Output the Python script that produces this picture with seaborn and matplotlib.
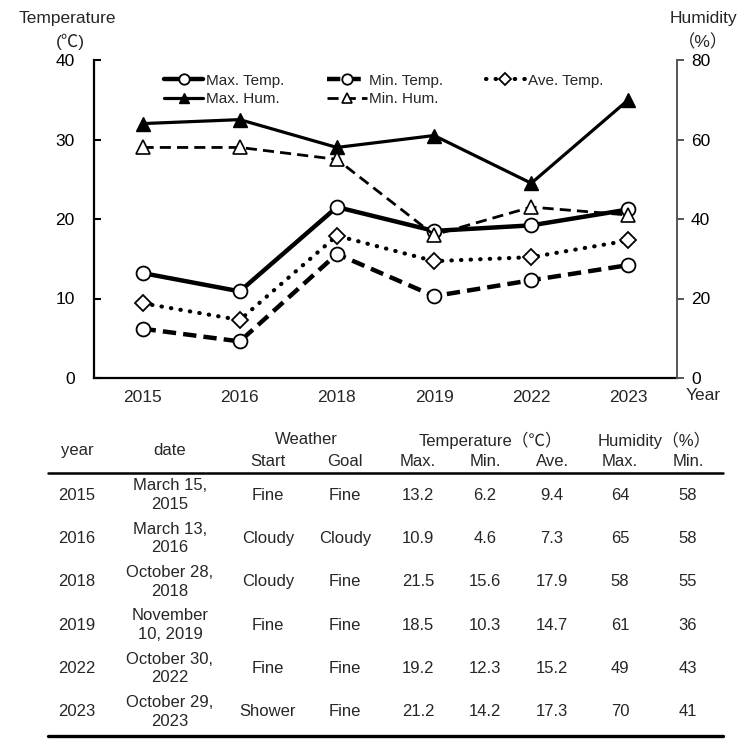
import matplotlib
matplotlib.use("Agg")
import matplotlib.pyplot as plt
from matplotlib.lines import Line2D
import seaborn as sns
import pandas as pd

# ================= DATA =================
years = ["2015", "2016", "2018", "2019", "2022", "2023"]
dates = ["March 15,\n2015", "March 13,\n2016", "October 28,\n2018",
         "November\n10, 2019", "October 30,\n2022", "October 29,\n2023"]
weather_start = ["Fine", "Cloudy", "Cloudy", "Fine", "Fine", "Shower"]
weather_goal = ["Fine", "Cloudy", "Fine", "Fine", "Fine", "Fine"]
max_temp = [13.2, 10.9, 21.5, 18.5, 19.2, 21.2]
min_temp = [6.2, 4.6, 15.6, 10.3, 12.3, 14.2]
ave_temp = [9.4, 7.3, 17.9, 14.7, 15.2, 17.3]
max_hum = [64, 65, 58, 61, 49, 70]
min_hum = [58, 58, 55, 36, 43, 41]

df = pd.DataFrame({"year": years, "max_temp": max_temp, "min_temp": min_temp,
                   "ave_temp": ave_temp, "max_hum": max_hum, "min_hum": min_hum})

# ================= STYLE =================
sns.set_style("white")
plt.rcParams["font.family"] = ["Liberation Sans", "Noto Sans CJK JP", "DejaVu Sans"]
plt.rcParams["font.size"] = 12

W, H = 750, 746
fig = plt.figure(figsize=(W / 100, H / 100), dpi=100)


def fx(x):
    return x / W


def fy(y):
    return 1 - y / H


ax = fig.add_axes([fx(94), fy(378), fx(677) - fx(94), fy(60) - fy(378)])
ax2 = ax.twinx()

circ = dict(marker="o", markersize=10, markerfacecolor="white",
            markeredgecolor="black", markeredgewidth=1.3)

sns.lineplot(data=df, x="year", y="max_temp", ax=ax, sort=False, color="black",
             linewidth=3.2, label="Max. Temp.", **circ)
sns.lineplot(data=df, x="year", y="min_temp", ax=ax, sort=False, color="black",
             linewidth=3.2, linestyle=(0, (3, 1.6)), label="Min. Temp.", **circ)
sns.lineplot(data=df, x="year", y="ave_temp", ax=ax, sort=False, color="black",
             linewidth=3, linestyle=(0, (0.1, 2.2)), dash_capstyle="round",
             marker="D", markersize=8, markerfacecolor="white",
             markeredgecolor="black", markeredgewidth=1.3, label="Ave. Temp.")
sns.lineplot(data=df, x="year", y="max_hum", ax=ax2, sort=False, color="black",
             linewidth=2.3, marker="^", markersize=10, markerfacecolor="black",
             markeredgecolor="black", markeredgewidth=1, label="Max. Hum.")
sns.lineplot(data=df, x="year", y="min_hum", ax=ax2, sort=False, color="black",
             linewidth=2, linestyle=(0, (4, 2.2)), marker="^", markersize=10,
             markerfacecolor="white", markeredgecolor="black",
             markeredgewidth=1.2, label="Min. Hum.")

ax.set_ylim(0, 40)
ax2.set_ylim(0, 80)
ax.set_xlim(-0.5, len(years) - 0.5)
ax.set_yticks([0, 10, 20, 30, 40])
ax2.set_yticks([0, 20, 40, 60, 80])
ax.set_xlabel("")
ax.set_ylabel("")
ax2.set_ylabel("")

for a in (ax, ax2):
    a.spines["top"].set_visible(False)
    a.grid(False)
ax.spines["right"].set_visible(False)
ax2.spines["left"].set_visible(False)
ax2.spines["bottom"].set_visible(False)
ax.spines["left"].set_color("black")
ax.spines["left"].set_linewidth(1.6)
ax.spines["bottom"].set_color("black")
ax.spines["bottom"].set_linewidth(1.6)
ax2.spines["right"].set_color("#555555")
ax2.spines["right"].set_linewidth(1.4)

ax.tick_params(axis="y", direction="in", length=5, width=1.5, colors="black",
               labelsize=12.5, pad=14, left=True)
ax.tick_params(axis="x", length=0, labelsize=12.5, pad=9)
ax2.tick_params(axis="y", direction="out", length=5, width=1.4, color="#555555",
                labelcolor="black", labelsize=12.5, pad=5, right=True)

# legend
h1, l1 = ax.get_legend_handles_labels()
h2, l2 = ax2.get_legend_handles_labels()
ax.get_legend().remove()
ax2.get_legend().remove()
handles = [h1[0], h2[0], h1[1], h2[1], h1[2]]
labels = [l1[0], l2[0], l1[1], l2[1], l1[2]]
ax2.legend(handles, labels, ncol=3, frameon=False, fontsize=11,
           loc="upper left", bbox_to_anchor=(fx(150), fy(60)),
           bbox_transform=fig.transFigure, handlelength=2.6,
           handletextpad=0.15, columnspacing=2.8, labelspacing=0.3,
           markerscale=0.75)

# axis titles
fig.text(fx(67), fy(18), "Temperature", ha="center", va="center", fontsize=12.5)
fig.text(fx(70), fy(42), "(℃)", ha="center", va="center", fontsize=12.5)
fig.text(fx(703), fy(18), "Humidity", ha="center", va="center", fontsize=12.5)
fig.text(fx(703), fy(42), "（%）", ha="center", va="center", fontsize=12.5)
fig.text(fx(703), fy(395), "Year", ha="center", va="center", fontsize=12.5)

# ================= TABLE =================
cols = [77, 170, 268, 345, 418, 485, 552, 620, 688]
fig.text(fx(cols[0]), fy(451), "year", ha="center", va="center")
fig.text(fx(cols[1]), fy(451), "date", ha="center", va="center")
fig.text(fx((cols[2] + cols[3]) / 2), fy(440), "Weather", ha="center", va="center")
fig.text(fx(cols[5] + 5), fy(440), "Temperature（℃）", ha="center", va="center")
fig.text(fx((cols[7] + cols[8]) / 2), fy(440), "Humidity（%）", ha="center", va="center")
for x, s in zip(cols[2:], ["Start", "Goal", "Max.", "Min.", "Ave.", "Max.", "Min."]):
    fig.text(fx(x), fy(462), s, ha="center", va="center")

fig.add_artist(Line2D([fx(48), fx(723)], [fy(473), fy(473)], color="black",
                      linewidth=1.8, transform=fig.transFigure))
fig.add_artist(Line2D([fx(48), fx(723)], [fy(736), fy(736)], color="black",
                      linewidth=2.4, transform=fig.transFigure))

for i in range(len(years)):
    y = fy(495 + i * 43.4)
    row = [years[i], dates[i], weather_start[i], weather_goal[i],
           f"{max_temp[i]:.1f}", f"{min_temp[i]:.1f}", f"{ave_temp[i]:.1f}",
           f"{max_hum[i]}", f"{min_hum[i]}"]
    for x, s in zip(cols, row):
        fig.text(fx(x), y, s, ha="center", va="center", linespacing=1.3)

fig.savefig("out.png", dpi=100)
